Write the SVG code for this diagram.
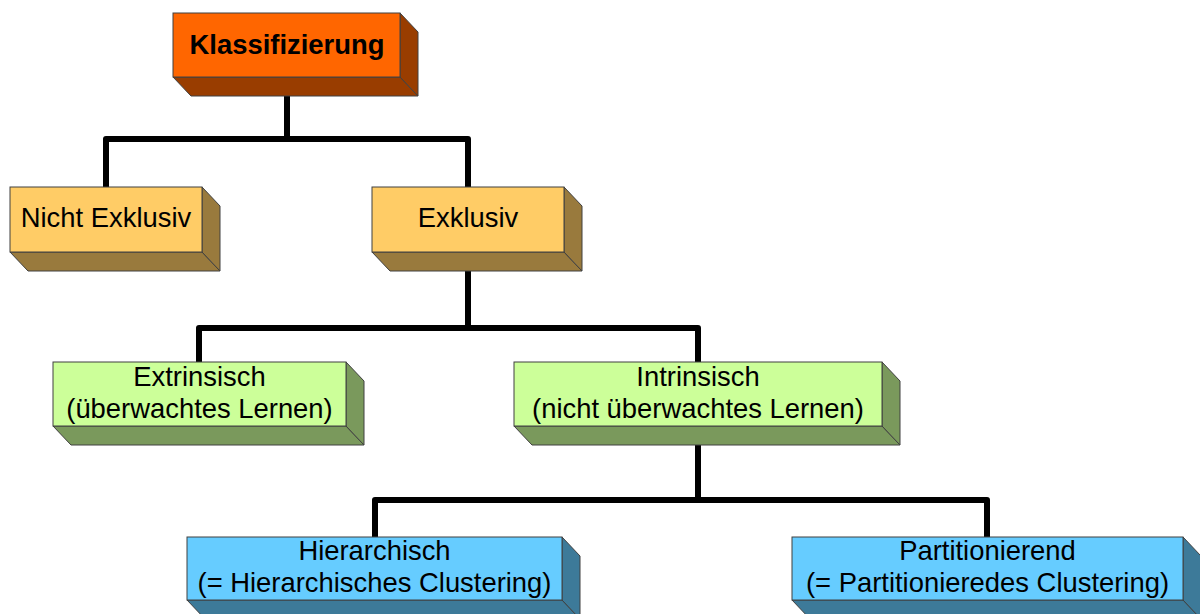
<svg xmlns="http://www.w3.org/2000/svg" width="1200" height="614" viewBox="0 0 1200 614">
  <style>
    .edge { fill: none; stroke: #000; stroke-width: 6; stroke-linejoin: round; }
    .face { stroke: #404040; stroke-width: 1; stroke-linejoin: miter; }
    .lbl { font-family: "Liberation Sans", Arial, sans-serif; font-size: 27.4px; fill: #000; text-anchor: middle; }
    .bold { font-weight: bold; }
    .orange .front { fill: #FF6600; }
    .orange .shade { fill: #993D00; }
    .yellow .front { fill: #FFCC66; }
    .yellow .shade { fill: #997A3D; }
    .green .front { fill: #CCFF99; }
    .green .shade { fill: #7A995C; }
    .blue .front { fill: #66CCFF; }
    .blue .shade { fill: #3D7A99; }
  </style>

  <rect width="1200" height="614" fill="#fff"/>

  <!-- tree connectors -->
  <g id="connectors">
    <path class="edge" d="M287 77 V139 M106 187 V139 H468 V187"/>
    <path class="edge" d="M468 252 V328 M199 362 V328 H698 V362"/>
    <path class="edge" d="M698 426 V500 M375 537 V500 H987 V537"/>
  </g>

  <!-- boxes: front face, bottom face, right face (depth 18 x 19) -->
  <g id="klassifizierung" class="orange">
    <polygon class="face shade" points="173,77 400,77 418,96 191,96"/>
    <polygon class="face shade" points="400,13 418,32 418,96 400,77"/>
    <rect class="face front" x="173" y="13" width="227" height="64"/>
    <text class="lbl bold" x="287" y="54">Klassifizierung</text>
  </g>

  <g id="nicht-exklusiv" class="yellow">
    <polygon class="face shade" points="10,252 202,252 220,271 28,271"/>
    <polygon class="face shade" points="202,187 220,206 220,271 202,252"/>
    <rect class="face front" x="10" y="187" width="192" height="65"/>
    <text class="lbl" x="106" y="227">Nicht Exklusiv</text>
  </g>

  <g id="exklusiv" class="yellow">
    <polygon class="face shade" points="372,252 564,252 582,271 390,271"/>
    <polygon class="face shade" points="564,187 582,206 582,271 564,252"/>
    <rect class="face front" x="372" y="187" width="192" height="65"/>
    <text class="lbl" x="468" y="227">Exklusiv</text>
  </g>

  <g id="extrinsisch" class="green">
    <polygon class="face shade" points="53,426 346,426 364,445 71,445"/>
    <polygon class="face shade" points="346,362 364,381 364,445 346,426"/>
    <rect class="face front" x="53" y="362" width="293" height="64"/>
    <text class="lbl" x="199.5" y="386">Extrinsisch</text>
    <text class="lbl" x="199.5" y="418">(überwachtes Lernen)</text>
  </g>

  <g id="intrinsisch" class="green">
    <polygon class="face shade" points="514,426 882,426 900,445 532,445"/>
    <polygon class="face shade" points="882,362 900,381 900,445 882,426"/>
    <rect class="face front" x="514" y="362" width="368" height="64"/>
    <text class="lbl" x="698" y="386">Intrinsisch</text>
    <text class="lbl" x="698" y="418">(nicht überwachtes Lernen)</text>
  </g>

  <g id="hierarchisch" class="blue">
    <polygon class="face shade" points="187,600 562,600 580,619 205,619"/>
    <polygon class="face shade" points="562,537 580,556 580,619 562,600"/>
    <rect class="face front" x="187" y="537" width="375" height="63"/>
    <text class="lbl" x="374.5" y="560">Hierarchisch</text>
    <text class="lbl" x="374.5" y="592">(= Hierarchisches Clustering)</text>
  </g>

  <g id="partitionierend" class="blue">
    <polygon class="face shade" points="792,600 1183,600 1201,619 810,619"/>
    <polygon class="face shade" points="1183,537 1201,556 1201,619 1183,600"/>
    <rect class="face front" x="792" y="537" width="391" height="63"/>
    <text class="lbl" x="987.5" y="560">Partitionierend</text>
    <text class="lbl" x="987.5" y="592">(= Partitionieredes Clustering)</text>
  </g>
</svg>
